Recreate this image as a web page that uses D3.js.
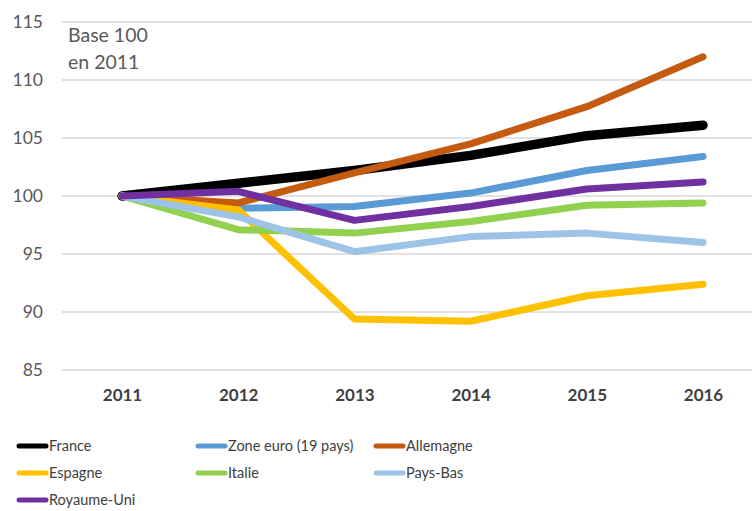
<!DOCTYPE html>
<html><head><meta charset="utf-8">
<script src="https://cdn.jsdelivr.net/npm/d3@7"></script>
<style>body{margin:0;background:#fff;} svg{display:block;}</style>
</head><body>
<svg id="c" width="752" height="511"></svg>
<script>
const years = ["2011","2012","2013","2014","2015","2016"];
const yTicks = [85,90,95,100,105,110,115];
const seriesNames = ["France","Zone euro (19 pays)","Allemagne","Espagne","Italie","Pays-Bas","Royaume-Uni"];
const seriesColors = ["#000000","#5B9BD5","#C55A11","#FFC000","#92D050","#9DC3E6","#7030A0"];
const france = [100,101.1,102.2,103.5,105.2,106.1];
const zoneEuro = [100,98.95,99.1,100.25,102.2,103.4];
const allemagne = [100,99.4,102.0,104.5,107.7,112.0];
const espagne = [100,98.8,89.4,89.2,91.4,92.4];
const italie = [100,97.1,96.8,97.8,99.2,99.4];
const paysBas = [100,98.2,95.2,96.5,96.8,96.0];
const royaumeUni = [100,100.4,97.9,99.1,100.6,101.2];
const allValues = [france,zoneEuro,allemagne,espagne,italie,paysBas,royaumeUni];

const svg = d3.select("#c");
const font = "Lato, 'Open Sans', sans-serif";
const x = d3.scalePoint().domain(years).range([122,703]);
const y = d3.scaleLinear().domain([85,115]).range([370,22]);

// gridlines
svg.append("g").selectAll("line").data(yTicks).join("line")
  .attr("x1",62).attr("x2",752).attr("y1",d=>y(d)).attr("y2",d=>y(d))
  .attr("stroke","#D9D9D9").attr("stroke-width",1.3);

// y axis labels
const yAxis = d3.axisLeft(y).tickValues(yTicks).tickSize(0).tickPadding(0);
const gy = svg.append("g").attr("transform","translate(43,0)").call(yAxis);
gy.select(".domain").remove();
gy.selectAll("text").attr("font-family",font).attr("font-size",17.5).attr("fill","#595959");

// x axis labels
const xAxis = d3.axisBottom(x).tickSize(0).tickPadding(0);
const gx = svg.append("g").attr("transform","translate(0,389)").call(xAxis);
gx.select(".domain").remove();
gx.selectAll("text").attr("font-family",font).attr("font-size",17).attr("font-weight","bold").attr("fill","#404040");

// lines
const line = d3.line().x((d,i)=>x(years[i])).y(d=>y(d));
seriesNames.forEach((n,k)=>{
  svg.append("path").datum(allValues[k]).attr("d",line)
    .attr("fill","none").attr("stroke",seriesColors[k])
    .attr("stroke-width", k===0?9.5:7)
    .attr("stroke-linecap","round").attr("stroke-linejoin","round");
});

// annotation
const ann = svg.append("text").attr("font-family",font).attr("font-size",19.5).attr("fill","#595959");
ann.append("tspan").attr("x",68).attr("y",42).text("Base 100");
ann.append("tspan").attr("x",68).attr("y",69).text("en 2011");

// legend
const colX = [17,196,374];
const rowY = [446,473,500];
const lg = svg.append("g").selectAll("g").data(seriesNames).join("g")
  .attr("transform",(d,i)=>`translate(${colX[i%3]},${rowY[Math.floor(i/3)]})`);
lg.append("line").attr("x1",2).attr("x2",29).attr("y1",0).attr("y2",0)
  .attr("stroke",(d,i)=>seriesColors[i]).attr("stroke-width",5).attr("stroke-linecap","round");
lg.append("text").attr("x",32).attr("y",0).attr("dy","0.35em")
  .attr("font-family",font).attr("font-size",14.5).attr("fill","#404040").text(d=>d);
</script>
</body></html>
